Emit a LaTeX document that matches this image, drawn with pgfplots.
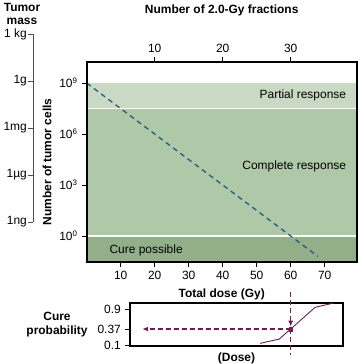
\documentclass[border=0pt]{standalone}
\usepackage{fontspec}
\setmainfont{Liberation Sans}
\usepackage{pgfplots}
\pgfplotsset{compat=1.18}
\usetikzlibrary{arrows.meta}
\definecolor{partial}{HTML}{C9D9C4}
\definecolor{complete}{HTML}{AEC8A8}
\definecolor{cure}{HTML}{92AF8A}
\definecolor{dashblue}{HTML}{1D5C7E}
\definecolor{purp}{HTML}{6B1E50}
\begin{document}
\fontsize{12}{14}\selectfont
\begin{tikzpicture}
\path[use as bounding box] (0,0) rectangle (358bp,-364bp);
% ---------- main axis ----------
\begin{axis}[
  at={(86.7bp,-262bp)}, anchor=south west,
  scale only axis, width=270bp, height=200bp,
  xmin=0, xmax=79.4,
  ymode=log, ymin=0.0295, ymax=1.74e10,
  xtick={10,20,30,40,50,60,70},
  xticklabels={10,20,30,40,50,60,70},
  xtick pos=bottom,
  ytick={1,1e3,1e6,1e9},
  yticklabels={10\textsuperscript{0},10\textsuperscript{3},10\textsuperscript{6},10\textsuperscript{9}},
  ytick pos=left,
  minor ytick={}, 
  tick align=outside, major tick length=5bp,
  tick style={black, line width=0.7bp},
  axis line style={line width=1.6bp},
  xlabel={\bfseries Total dose (Gy)},
  xlabel style={at={(axis description cs:0.5,-0.16)}, anchor=center},
  ylabel={\bfseries Number of tumor cells},
  ylabel style={at={(axis description cs:-0.147,0.5)}, anchor=center},
  axis on top,
  clip=true,
]
\addplot[fill=partial, draw=none] coordinates {(0,1e9) (79.4,1e9) (79.4,3.16e7) (0,3.16e7)} -- cycle;
\addplot[fill=complete, draw=none] coordinates {(0,3.16e7) (79.4,3.16e7) (79.4,1) (0,1)} -- cycle;
\addplot[fill=cure, draw=none] coordinates {(0,1) (79.4,1) (79.4,0.0295) (0,0.0295)} -- cycle;
\addplot[white, line width=1.6bp] coordinates {(0,3.16e7) (79.4,3.16e7)};
\addplot[white, line width=1.6bp] coordinates {(0,1) (79.4,1)};
\addplot[dashblue, line width=1.3bp, dash pattern=on 5bp off 4bp] coordinates {(0,1e9) (68,0.063)};
\node[anchor=east] at (axis cs:77.5,2.0e8) {Partial response};
\node[anchor=east] at (axis cs:77.5,1.2e4) {Complete response};
\node[anchor=west] at (axis cs:5.5,0.14) {Cure possible};
\end{axis}
% ---------- top axis ----------
\begin{axis}[
  at={(86.7bp,-262bp)}, anchor=south west,
  scale only axis, width=270bp, height=200bp,
  xmin=0, xmax=79.4, ymin=0, ymax=1,
  axis x line*=top, axis y line=none,
  xtick={20,40,60}, xticklabels={10,20,30},
  tick align=outside, major tick length=5bp,
  tick style={black, line width=0.7bp},
  axis line style={line width=1.6bp},
  xlabel={\bfseries Number of 2.0-Gy fractions},
  xlabel style={at={(axis description cs:0.5,1.26)}, anchor=center},
]
\end{axis}
% ---------- tumor mass axis ----------
\begin{axis}[
  at={(33bp,-222bp)}, anchor=south west,
  scale only axis, width=1bp, height=188bp,
  xmin=0, xmax=1, ymin=0, ymax=4,
  axis y line*=left, axis x line=none,
  ytick={0,1,2,3,4},
  yticklabels={1ng,1µg,1mg,1g,1 kg},
  tick align=outside, major tick length=5bp,
  tick style={black!70, line width=0.7bp},
  axis line style={black!70, line width=0.9bp},
  yticklabel style={inner xsep=1bp},
]
\end{axis}
\node[font=\bfseries\fontsize{12}{12.5}\selectfont, align=center, inner sep=0pt] at (22bp,-14bp) {Tumor\\mass};
% ---------- cure probability axis ----------
\begin{axis}[
  at={(130bp,-346bp)}, anchor=south west,
  scale only axis, width=213bp, height=43bp,
  xmin=12.7, xmax=75.4, ymin=0, ymax=1,
  xtick=\empty,
  ytick={0.023,0.395,0.86},
  yticklabels={0.1,0.37,0.9},
  ytick pos=left,
  tick align=outside, major tick length=5bp,
  tick style={black, line width=0.7bp},
  axis line style={line width=1.6bp},
  clip=false,
  xlabel={\bfseries (Dose)},
  xlabel style={at={(axis description cs:0.5,-0.28)}, anchor=center},
]
\addplot[purp, line width=0.9bp] coordinates {(51,0.062) (56.6,0.16) (60,0.395) (67.2,0.9) (71.6,0.98) (72.5,1.0)};
\addplot[purp, line width=1.2bp, dash pattern=on 5bp off 3bp, -{Latex[length=6bp,width=5bp]}] coordinates {(60,1.256) (60,0.45)};
\addplot[purp, line width=1.2bp, dash pattern=on 5bp off 3bp] coordinates {(60,0.395) (60,-0.21)};
\addplot[purp, line width=1.2bp, dash pattern=on 5bp off 3bp, -{Latex[length=6bp,width=5bp]}] coordinates {(60,0.395) (16.3,0.395)};
\addplot[purp, only marks, mark=square*, mark size=1.8bp] coordinates {(60,0.395)};
\end{axis}
\node[font=\bfseries, align=center] at (57bp,-325bp) {Cure\\probability};
\end{tikzpicture}
\end{document}
